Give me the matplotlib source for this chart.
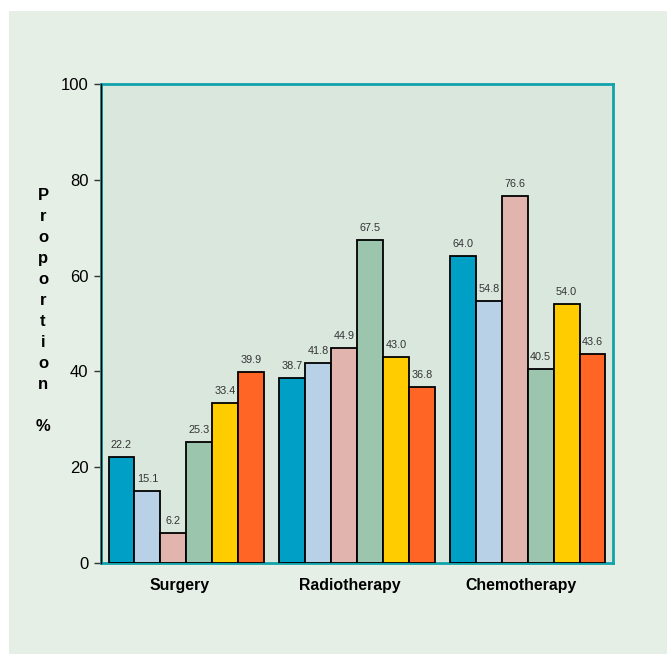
import numpy as np
import matplotlib
matplotlib.use('Agg')
import matplotlib.pyplot as plt
import matplotlib.transforms as mtransforms
from matplotlib.patches import Rectangle

plt.rcParams['font.family'] = ['Liberation Sans', 'DejaVu Sans']

# data
categories = ['Surgery', 'Radiotherapy', 'Chemotherapy']
series_1 = [22.2, 38.7, 64.0]
series_2 = [15.1, 41.8, 54.8]
series_3 = [6.2, 44.9, 76.6]
series_4 = [25.3, 67.5, 40.5]
series_5 = [33.4, 43.0, 54.0]
series_6 = [39.9, 36.8, 43.6]
all_series = [series_1, series_2, series_3, series_4, series_5, series_6]
colors = ['#00a0c6', '#b8d1e6', '#e1b5ad', '#9cc5ae', '#ffcc00', '#ff6625']
yticks = [0, 20, 40, 60, 80, 100]

fig = plt.figure(figsize=(6.67, 6.54), dpi=100)
fig.patch.set_facecolor('white')
fig.patches.append(Rectangle((9 / 667, 0), 1 - 9 / 667, (654 - 11) / 654,
                             transform=fig.transFigure, facecolor='#e5efe6',
                             edgecolor='none', zorder=-10))

ax = fig.add_axes([101 / 667, 1 - 563 / 654, 512 / 667, 479 / 654])
ax.set_facecolor('#d9e7dd')

x = np.arange(len(categories))
width = 0.152
n = len(all_series)
for i, (vals, c) in enumerate(zip(all_series, colors)):
    pos = x + (i - (n - 1) / 2) * width
    bars = ax.bar(pos, vals, width, color=c, edgecolor='black', linewidth=1.3, zorder=3)
    for b, v in zip(bars, vals):
        ax.annotate(f'{v:.1f}', (b.get_x() + b.get_width() / 2, v),
                    xytext=(0, 5), textcoords='offset points',
                    ha='center', va='bottom', fontsize=7.8, color='#333333')

ax.set_xlim(-0.5, 2.5)
ax.set_ylim(0, 100)
ax.set_yticks(yticks)
ax.tick_params(axis='y', labelsize=12, length=5, width=1, color='#333333', pad=4)
ax.set_xticks(x)
ax.set_xticklabels(categories, fontsize=11.4, fontweight='bold')
ax.tick_params(axis='x', length=0, pad=11)
# category labels sit a little left of the group centres
shift = mtransforms.ScaledTranslation(-7 / 100, 0, fig.dpi_scale_trans)
for lbl in ax.get_xticklabels():
    lbl.set_transform(lbl.get_transform() + shift)

for s in ['top', 'right', 'bottom', 'left']:
    ax.spines[s].set_color('#12a3aa')
    ax.spines[s].set_linewidth(2)
ax.axvline(-0.5, color='black', linewidth=1, zorder=5, clip_on=False)

fig.text(43 / 667, 1 - 311 / 654, 'P\nr\no\np\no\nr\nt\ni\no\nn\n\n%',
         ha='center', va='center', fontsize=12, fontweight='bold',
         linespacing=1.5)

fig.savefig('out.png', dpi=100)
